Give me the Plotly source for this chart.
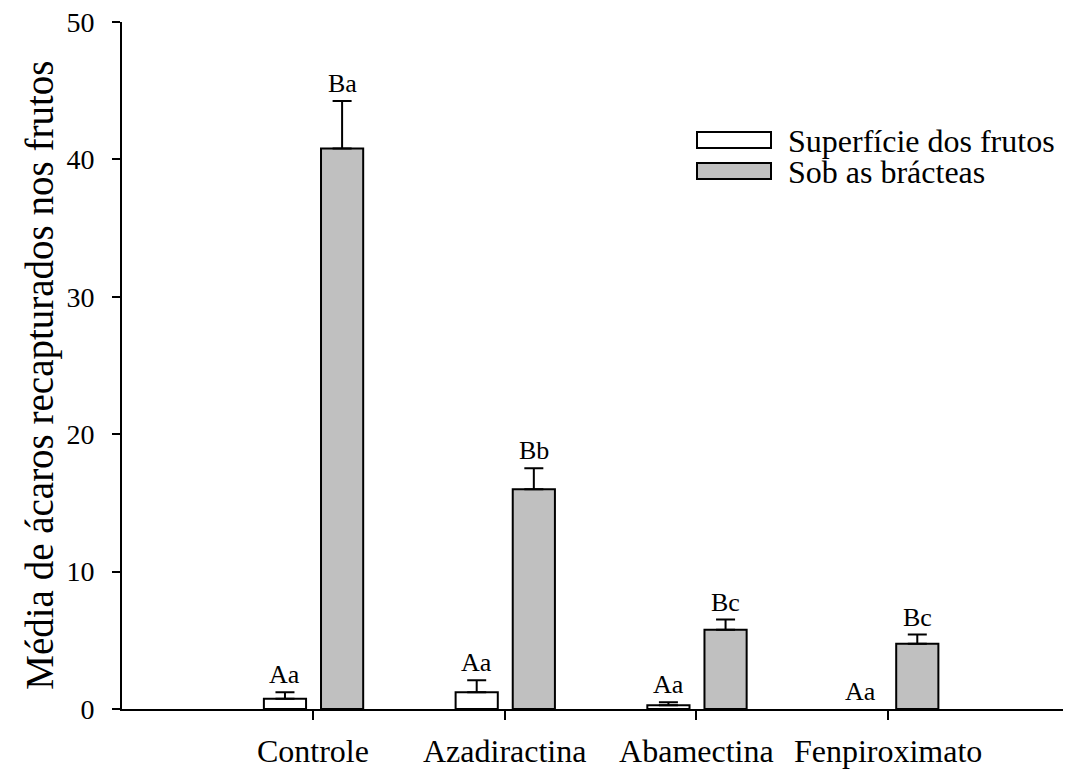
import plotly.graph_objects as go

# Treatments and series
categories = ["Controle", "Azadiractina", "Abamectina", "Fenpiroximato"]
series_names = ["Superfície dos frutos", "Sob as brácteas"]

superficie_mean = [0.74, 1.22, 0.28, 0.0]
superficie_se = [0.48, 0.87, 0.21, 0.0]
bracteas_mean = [40.8, 16.0, 5.76, 4.74]
bracteas_se = [3.45, 1.53, 0.75, 0.68]

superficie_letters = ["Aa", "Aa", "Aa", "Aa"]
bracteas_letters = ["Ba", "Bb", "Bc", "Bc"]

y_ticks = [0, 10, 20, 30, 40, 50]

FONT = "Liberation Serif, Times New Roman, serif"
W, H = 1079, 774
L, R, T, B = 122, 16, 22, 64.5
BAR_W = 0.22
OFF_WHITE = -0.256
OFF_GRAY = 0.042
GRAY = "#c0c0c0"

x_idx = list(range(len(categories)))

# zero means are left undrawn (no outline, no error cap on the axis)
white_y = [m if m > 0 else None for m in superficie_mean]
white_err = [s if m > 0 else None for m, s in zip(superficie_mean, superficie_se)]

fig = go.Figure()

fig.add_trace(go.Bar(
    x=x_idx, y=white_y, name=series_names[0],
    width=BAR_W, offset=OFF_WHITE,
    marker=dict(color="white", line=dict(color="black", width=2)),
    error_y=dict(type="data", array=white_err, arrayminus=[0] * 4,
                 symmetric=False, color="black", thickness=2, width=9.5),
    showlegend=False,
))
fig.add_trace(go.Bar(
    x=x_idx, y=bracteas_mean, name=series_names[1],
    width=BAR_W, offset=OFF_GRAY,
    marker=dict(color=GRAY, line=dict(color="black", width=2)),
    error_y=dict(type="data", array=bracteas_se, arrayminus=[0] * 4,
                 symmetric=False, color="black", thickness=2, width=9.5),
    showlegend=False,
))

annotations = []
# significance letters above the error bars
for i in x_idx:
    for mean, se, letters, off in (
        (superficie_mean, superficie_se, superficie_letters, OFF_WHITE),
        (bracteas_mean, bracteas_se, bracteas_letters, OFF_GRAY),
    ):
        annotations.append(dict(
            x=i + off + BAR_W / 2, y=mean[i] + se[i], xref="x", yref="y",
            text=letters[i], showarrow=False, yanchor="bottom", yshift=1,
            font=dict(family=FONT, size=26, color="black"),
        ))


def px_x(px):
    return (px - L) / (W - L - R)


def px_y(py):
    return (H - B - py) / (H - B - T)


# y-axis title
annotations.append(dict(
    x=px_x(40), y=px_y(376), xref="paper", yref="paper",
    text="Média de ácaros recapturados nos frutos", textangle=-90,
    showarrow=False, xanchor="center", yanchor="middle",
    font=dict(family=FONT, size=39, color="black"),
))

# legend drawn as boxes + labels
shapes = []
legend_rows = [(series_names[0], "white", 132, 148, 141), (series_names[1], GRAY, 163, 179, 172)]
for name, color, y0, y1, yc in legend_rows:
    shapes.append(dict(
        type="rect", xref="paper", yref="paper",
        x0=px_x(697), x1=px_x(771), y0=px_y(y1), y1=px_y(y0),
        fillcolor=color, line=dict(color="black", width=2),
    ))
    annotations.append(dict(
        x=px_x(786), y=px_y(yc), xref="paper", yref="paper",
        text=name, showarrow=False, xanchor="left", yanchor="middle",
        font=dict(family=FONT, size=32, color="black"),
    ))

fig.update_layout(
    width=W, height=H,
    margin=dict(l=L, r=R, t=T, b=B, pad=0),
    paper_bgcolor="white", plot_bgcolor="white",
    showlegend=False,
    annotations=annotations, shapes=shapes,
    font=dict(family=FONT, color="black"),
)

fig.update_xaxes(
    range=[-0.996, 3.912], tickvals=x_idx, ticktext=categories,
    showline=True, linecolor="black", linewidth=2,
    ticks="outside", ticklen=9, tickwidth=2, tickcolor="black",
    tickfont=dict(family=FONT, size=32, color="black"),
    ticklabelstandoff=4,
    showgrid=False, zeroline=False, automargin=False,
)
fig.update_yaxes(
    range=[0, 50], tickvals=y_ticks,
    showline=True, linecolor="black", linewidth=2,
    ticks="outside", ticklen=8, tickwidth=2, tickcolor="black",
    tickfont=dict(family=FONT, size=28, color="black"),
    ticklabelstandoff=12,
    showgrid=False, zeroline=False, automargin=False,
)

fig.write_html("out.html")
